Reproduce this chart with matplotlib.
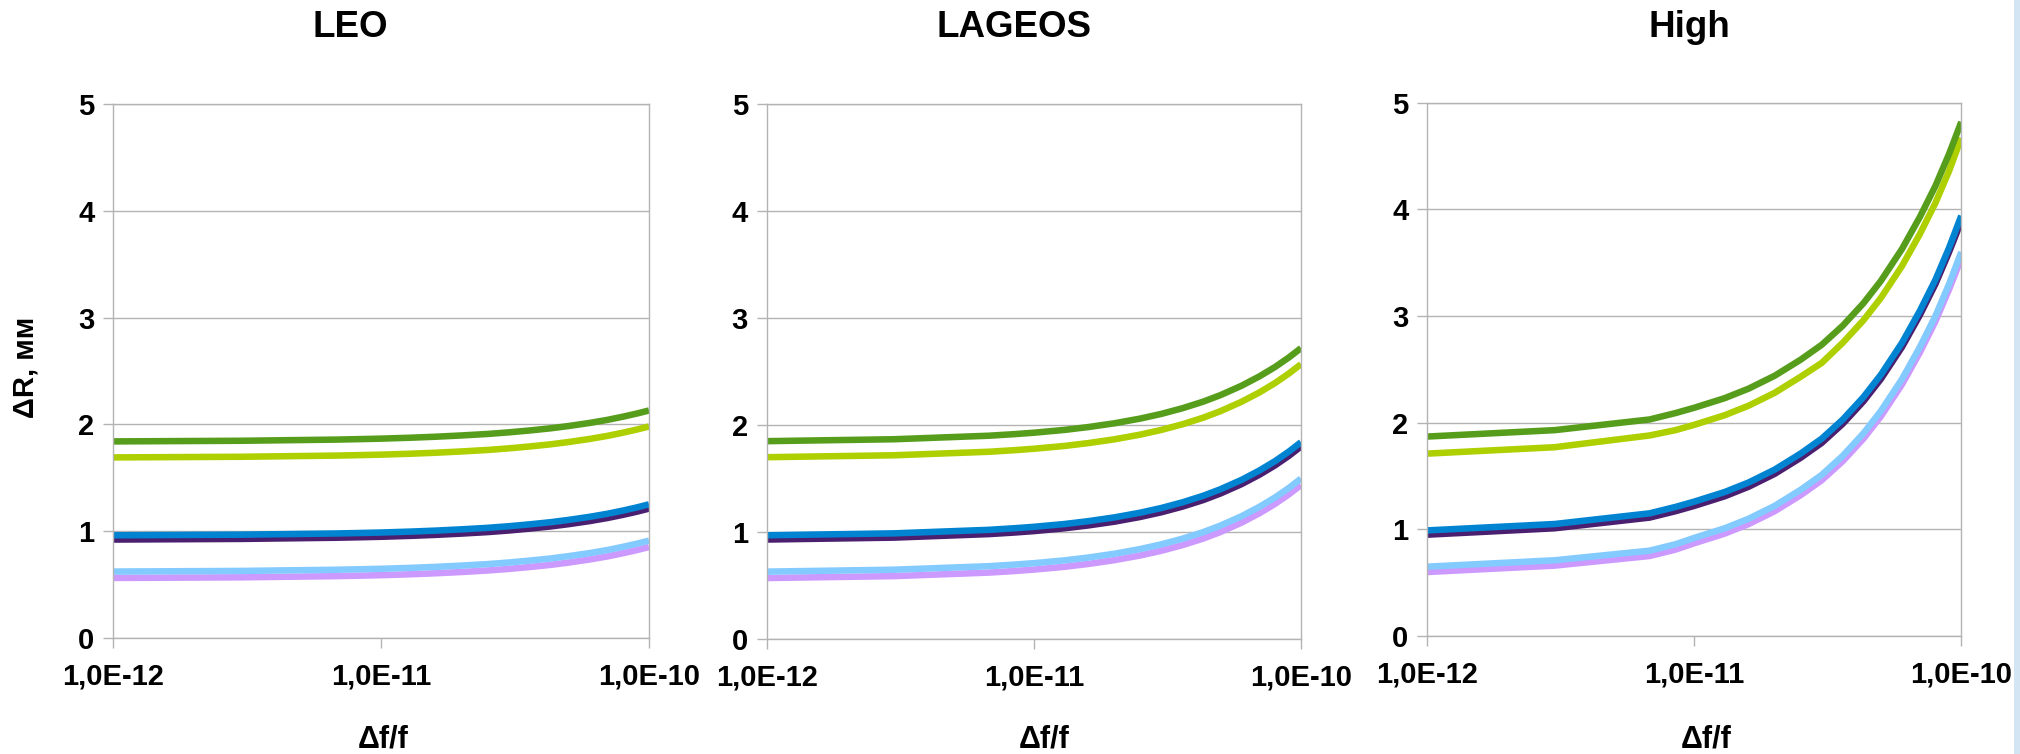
import matplotlib
matplotlib.use("Agg")
import matplotlib.pyplot as plt
from matplotlib.patches import Rectangle

plt.rcParams['font.family'] = ['Liberation Sans', 'DejaVu Sans']
plt.rcParams['font.weight'] = 'bold'

# --- data ---
panel_titles = ["LEO", "LAGEOS", "High"]
x_vals = [1e-12, 3e-12, 6.8e-12, 8.5e-12, 1e-11, 1.3e-11, 1.6e-11, 2e-11, 2.5e-11,
          3e-11, 3.6e-11, 4.3e-11, 5e-11, 6e-11, 7e-11, 8e-11, 9e-11, 1e-10]
x_ticks = [1e-12, 1e-11, 1e-10]
x_tick_labels = ["1,0E-12", "1,0E-11", "1,0E-10"]
y_ticks = [0, 1, 2, 3, 4, 5]

# series order: violet, light blue, purple, blue, yellow-green, green
leo_violet = [0.560, 0.566, 0.577, 0.582, 0.586, 0.595, 0.604, 0.616, 0.630, 0.645, 0.663, 0.683, 0.704, 0.733, 0.762, 0.792, 0.821, 0.850]
leo_lblue = [0.620, 0.626, 0.637, 0.642, 0.646, 0.655, 0.664, 0.676, 0.690, 0.705, 0.723, 0.743, 0.764, 0.793, 0.822, 0.852, 0.881, 0.910]
leo_purple = [0.920, 0.926, 0.937, 0.942, 0.946, 0.955, 0.964, 0.976, 0.990, 1.005, 1.023, 1.043, 1.064, 1.093, 1.122, 1.152, 1.181, 1.210]
leo_blue = [0.960, 0.966, 0.977, 0.982, 0.986, 0.995, 1.004, 1.016, 1.030, 1.045, 1.063, 1.083, 1.104, 1.133, 1.162, 1.192, 1.221, 1.250]
leo_ygreen = [1.690, 1.696, 1.707, 1.712, 1.716, 1.725, 1.734, 1.746, 1.760, 1.775, 1.793, 1.813, 1.834, 1.863, 1.892, 1.922, 1.951, 1.980]
leo_green = [1.840, 1.846, 1.857, 1.862, 1.866, 1.875, 1.884, 1.896, 1.910, 1.925, 1.943, 1.963, 1.984, 2.013, 2.042, 2.072, 2.101, 2.130]

lag_violet = [0.570, 0.588, 0.621, 0.636, 0.649, 0.675, 0.702, 0.737, 0.781, 0.825, 0.878, 0.939, 1.001, 1.089, 1.177, 1.264, 1.352, 1.440]
lag_lblue = [0.630, 0.648, 0.681, 0.696, 0.709, 0.735, 0.762, 0.797, 0.841, 0.885, 0.938, 0.999, 1.061, 1.149, 1.237, 1.324, 1.412, 1.500]
lag_purple = [0.930, 0.948, 0.981, 0.996, 1.009, 1.035, 1.062, 1.097, 1.141, 1.185, 1.238, 1.299, 1.361, 1.449, 1.537, 1.624, 1.712, 1.800]
lag_blue = [0.970, 0.988, 1.021, 1.036, 1.049, 1.075, 1.102, 1.137, 1.181, 1.225, 1.278, 1.339, 1.401, 1.489, 1.577, 1.664, 1.752, 1.840]
lag_ygreen = [1.700, 1.718, 1.751, 1.766, 1.779, 1.805, 1.832, 1.867, 1.911, 1.955, 2.008, 2.069, 2.131, 2.219, 2.307, 2.394, 2.482, 2.570]
lag_green = [1.850, 1.868, 1.901, 1.916, 1.929, 1.955, 1.982, 2.017, 2.061, 2.105, 2.158, 2.219, 2.281, 2.369, 2.457, 2.544, 2.632, 2.720]

high_violet = [0.60, 0.66, 0.75, 0.81, 0.87, 0.96, 1.05, 1.17, 1.32, 1.46, 1.64, 1.85, 2.06, 2.36, 2.66, 2.95, 3.25, 3.54]
high_lblue = [0.65, 0.71, 0.80, 0.86, 0.92, 1.01, 1.10, 1.22, 1.37, 1.51, 1.69, 1.90, 2.11, 2.41, 2.71, 3.00, 3.30, 3.60]
high_purple = [0.95, 1.01, 1.11, 1.17, 1.22, 1.31, 1.40, 1.52, 1.67, 1.81, 1.99, 2.20, 2.41, 2.71, 3.01, 3.30, 3.60, 3.89]
high_blue = [0.99, 1.05, 1.15, 1.21, 1.26, 1.35, 1.44, 1.56, 1.71, 1.85, 2.03, 2.24, 2.45, 2.75, 3.05, 3.34, 3.64, 3.94]
high_ygreen = [1.71, 1.77, 1.88, 1.93, 1.98, 2.07, 2.16, 2.28, 2.43, 2.56, 2.75, 2.96, 3.17, 3.47, 3.77, 4.06, 4.36, 4.67]
high_green = [1.87, 1.93, 2.03, 2.09, 2.14, 2.23, 2.32, 2.44, 2.59, 2.73, 2.91, 3.12, 3.33, 3.63, 3.93, 4.22, 4.52, 4.82]

series_colors = ["#cc99ff", "#83caff", "#4b1f6f", "#0084d1", "#aecf00", "#579d1c"]

panels = [
    [leo_violet, leo_lblue, leo_purple, leo_blue, leo_ygreen, leo_green],
    [lag_violet, lag_lblue, lag_purple, lag_blue, lag_ygreen, lag_green],
    [high_violet, high_lblue, high_purple, high_blue, high_ygreen, high_green],
]

# --- layout (pixel boxes of the plot areas) ---
W, H = 2020, 754
boxes = [(113.3, 104.3, 649.0, 637.7),
         (766.7, 104.3, 1301.0, 639.0),
         (1427.3, 102.7, 1961.3, 636.0)]
title_x = [350, 1014, 1689]
xlabel_x = [383, 1044, 1706]
grid_col = "#b3b3b3"

fig = plt.figure(figsize=(W / 100, H / 100), dpi=100)

for i, (l, t, r, b) in enumerate(boxes):
    ax = fig.add_axes([l / W, 1 - b / H, (r - l) / W, (b - t) / H])
    for ys, col in zip(panels[i], series_colors):
        ax.plot(x_vals, ys, color=col, linewidth=4.7,
                solid_capstyle='butt', solid_joinstyle='round')
    ax.set_xscale('log')
    ax.set_xlim(1e-12, 1e-10)
    ax.set_ylim(0, 5)
    ax.set_xticks(x_ticks)
    ax.set_xticklabels(x_tick_labels)
    ax.minorticks_off()
    ax.set_yticks(y_ticks)
    ax.grid(axis='y', color=grid_col, linewidth=1.0)
    ax.set_axisbelow(True)
    for sp in ax.spines.values():
        sp.set_color(grid_col)
        sp.set_linewidth(1.0)
    ax.tick_params(axis='both', colors=grid_col, labelcolor='black',
                   length=7.5, width=1.0, labelsize=21)
    ax.tick_params(axis='y', pad=6)
    ax.tick_params(axis='x', pad=10)
    for lab in ax.get_xticklabels() + ax.get_yticklabels():
        lab.set_fontweight('bold')

    fig.text(title_x[i] / W, 1 - 37.4 / H, panel_titles[i], ha='center',
             va='baseline', fontsize=26.5, fontweight='bold')
    fig.text(xlabel_x[i] / W, 1 - 747 / H, "Δf/f", ha='center',
             va='baseline', fontsize=22, fontweight='bold')

fig.text(26 / W, 1 - 367 / H, "ΔR, мм", rotation=90, ha='center',
         va='center', fontsize=21, fontweight='bold')

# light strip at the right edge of the slide
fig.patches.append(Rectangle((2014 / W, 0), 6 / W, 1, transform=fig.transFigure,
                             facecolor="#d3e5f2", edgecolor='none'))

fig.savefig("out.png", dpi=100)
